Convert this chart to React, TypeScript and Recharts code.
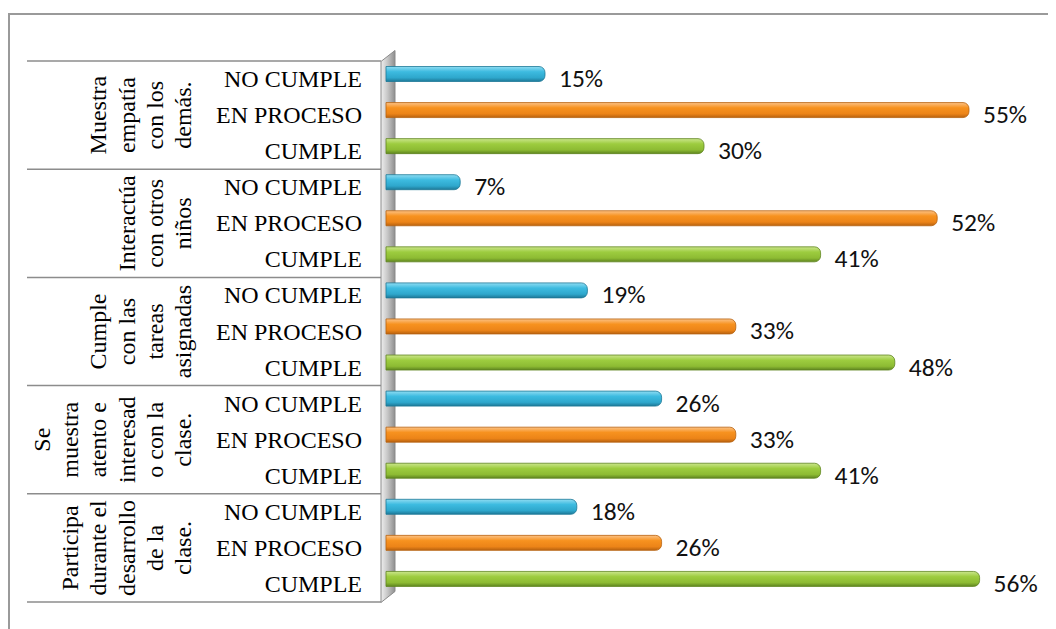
import React from "react";
import { BarChart, Bar, XAxis, YAxis, LabelList } from "recharts";

const statuses = ["NO CUMPLE", "EN PROCESO", "CUMPLE"];
const groupLines = [
  ["Muestra", "empatía", "con los", "demás."],
  ["Interactúa", "con otros", "niños"],
  ["Cumple", "con las", "tareas", "asignadas"],
  ["Se", "muestra", "atento e", "interesad", "o con la", "clase."],
  ["Participa", "durante el", "desarrollo", "de la", "clase."],
];
const noCumple = [15, 7, 19, 26, 18];
const enProceso = [55, 52, 33, 33, 26];
const cumple = [30, 41, 48, 41, 56];
const seriesByStatus = [noCumple, enProceso, cumple];

const rows = groupLines.flatMap((_, gi) =>
  statuses.map((s, si) => ({
    key: `${gi}-${si}`,
    status: s,
    group: gi,
    statusIdx: si,
    value: seriesByStatus[si][gi],
  }))
);

const W = 1048;
const H = 621;
const MARGIN = { top: 53, right: 34, bottom: 27, left: 0 };
const Y_AXIS_W = 378;
const PLOT_LEFT = MARGIN.left + Y_AXIS_W;
const PLOT_H = H - MARGIN.top - MARGIN.bottom;
const SLOT = PLOT_H / rows.length;

const SERIF = "'Liberation Serif','Times New Roman',serif";
const SANS = "Carlito, Calibri, Lato, 'Open Sans', sans-serif";

const gradients = [
  ["#8fdcf2", "#3dbbe0", "#2ea7cc", "#1d7897"],
  ["#fcc286", "#f7921f", "#ec8418", "#b8620f"],
  ["#cbe68c", "#9dcc3f", "#8dbb33", "#5f8520"],
];

const renderTick = (props: any) => {
  const { y, payload, index } = props;
  const i = typeof index === "number" ? index : payload.index;
  const row = rows[i];
  if (!row) return null;
  const top = y - SLOT / 2;
  const els: any[] = [];
  if (row.statusIdx === 0) {
    els.push(
      <line key="sep" x1={19} x2={PLOT_LEFT - 5} y1={top} y2={top} stroke="#8c8c8c" strokeWidth={1.5} />
    );
  }
  if (i === rows.length - 1) {
    els.push(
      <line key="sepb" x1={19} x2={PLOT_LEFT - 5} y1={top + SLOT} y2={top + SLOT} stroke="#8c8c8c" strokeWidth={1.5} />
    );
  }
  els.push(
    <text
      key="cat"
      x={PLOT_LEFT - 24}
      y={y}
      textAnchor="end"
      dominantBaseline="central"
      fontFamily={SERIF}
      fontSize={24}
      fill="#000"
    >
      {row.status}
    </text>
  );
  if (row.statusIdx === 1) {
    const lines = groupLines[row.group];
    const n = lines.length;
    lines.forEach((ln, li) => {
      const cx = 175 - (n - 1 - li) * 28.2;
      els.push(
        <text
          key={`g${li}`}
          x={cx}
          y={y}
          transform={`rotate(-90 ${cx} ${y})`}
          textAnchor="middle"
          dominantBaseline="central"
          fontFamily={SERIF}
          fontSize={24}
          fill="#000"
        >
          {ln}
        </text>
      );
    });
  }
  return <g>{els}</g>;
};

const Wall = ({ slotTop }: { slotTop: number }) => {
  const top = slotTop;
  const bottom = top + rows.length * SLOT;
  return (
    <g>
      <defs>
        <linearGradient id="wallGrad" x1="0" y1="0" x2="1" y2="0">
          <stop offset="0" stopColor="#eeeeee" />
          <stop offset="0.45" stopColor="#c8c8c8" />
          <stop offset="1" stopColor="#8e8e8e" />
        </linearGradient>
      </defs>
      <polygon
        points={`${PLOT_LEFT - 5},${top} ${PLOT_LEFT + 9},${top - 11} ${PLOT_LEFT + 9},${bottom - 11} ${PLOT_LEFT - 5},${bottom}`}
        fill="url(#wallGrad)"
        stroke="#8a8a8a"
        strokeWidth={1}
      />
    </g>
  );
};

const BarShape = (props: any) => {
  const { x, y, width, height, payload, index } = props;
  const si = payload.statusIdx;
  const g = gradients[si];
  const id = `barGrad${index}`;
  const yy = y - 5.5;
  const h = height;
  const r = 6;
  const xe = x + width;
  const d = `M${x},${yy} H${xe - r} A${r},${r} 0 0 1 ${xe},${yy + r} V${yy + h - r} A${r},${r} 0 0 1 ${xe - r},${yy + h} H${x} Z`;
  return (
    <g>
      {index === 0 ? <Wall slotTop={y + height / 2 - SLOT / 2} /> : null}
      <defs>
        <linearGradient id={id} x1="0" y1="0" x2="0" y2="1">
          <stop offset="0" stopColor={g[0]} />
          <stop offset="0.35" stopColor={g[1]} />
          <stop offset="0.75" stopColor={g[2]} />
          <stop offset="1" stopColor={g[3]} />
        </linearGradient>
      </defs>
      <path d={d} fill={`url(#${id})`} stroke={g[3]} strokeWidth={0.8} />
    </g>
  );
};

const renderLabel = (props: any) => {
  const { x, y, width, height, value } = props;
  return (
    <text
      x={x + width + 14}
      y={y + height / 2 - 1}
      textAnchor="start"
      dominantBaseline="central"
      fontFamily={SANS}
      fontSize={25.5}
      fill="#111"
    >
      {`${value}%`}
    </text>
  );
};

export default function App() {
  return (
    <div style={{ position: "relative", width: W, height: H, overflow: "hidden" }}>
      <div
        style={{
          position: "absolute",
          left: 0,
          top: 5,
          width: W + 50,
          height: H + 50,
          borderTop: "2px solid #9a9a9a",
          borderLeft: "2px solid #9a9a9a",
        }}
      />
      <div style={{ position: "absolute", left: 0, top: 0 }}>
        <BarChart width={W} height={H} layout="vertical" data={rows} margin={MARGIN} barSize={15}>
          <XAxis type="number" domain={[0, 60]} hide />
          <YAxis
            type="category"
            dataKey="key"
            width={Y_AXIS_W}
            axisLine={false}
            tickLine={false}
            interval={0}
            tick={renderTick}
          />
          <Bar dataKey="value" isAnimationActive={false} shape={BarShape}>
            <LabelList dataKey="value" content={renderLabel} />
          </Bar>
        </BarChart>
      </div>
    </div>
  );
}
